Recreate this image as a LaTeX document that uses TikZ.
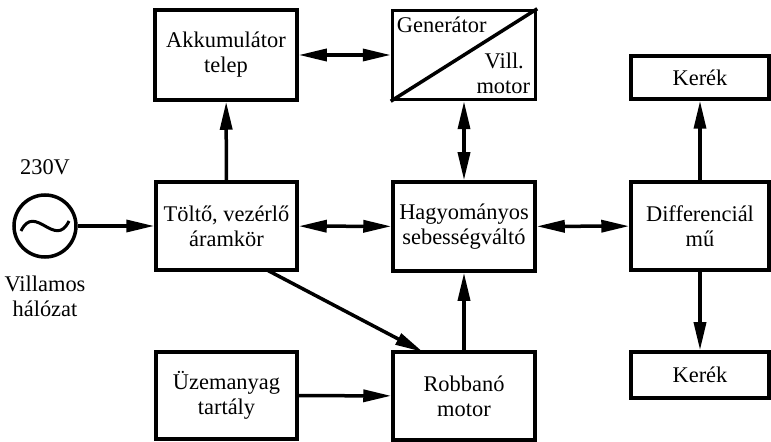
\documentclass[tikz,border=0pt]{standalone}
\usepackage{fontspec}
\setmainfont{Liberation Serif}
\usetikzlibrary{arrows.meta}
\begin{document}
\begin{tikzpicture}[x=1bp,y=-1bp,
  blk/.style={draw,line width=3.5bp,inner sep=0pt,align=center,font=\fontsize{22.5}{25}\selectfont},
  conn/.style={line width=3.5bp,-{Triangle[length=28bp,width=12bp]}},
  bconn/.style={line width=3.5bp,{Triangle[length=28bp,width=12bp]}-{Triangle[length=28bp,width=12bp]}},
  lbl/.style={font=\fontsize{22.5}{25}\selectfont,align=center,inner sep=0pt}]
\useasboundingbox (0,0) rectangle (771,442);
% boxes
\node[blk,minimum width=142bp,minimum height=90bp] (akk) at (226,55) {Akkumulátor\\telep};
\node[blk,minimum width=143bp,minimum height=89bp] (gen) at (464,55) {};
\node[blk,minimum width=138bp,minimum height=43bp] (k1) at (700,77.5) {Kerék};
\node[blk,minimum width=141bp,minimum height=88bp] (tol) at (226.5,226) {Töltő, vezérlő\\áramkör};
\node[blk,minimum width=142bp,minimum height=89bp] (hag) at (464,226.5) {Hagyományos\\sebességváltó};
\node[blk,minimum width=138bp,minimum height=88bp] (dif) at (700,226) {Differenciál\\mű};
\node[blk,minimum width=141bp,minimum height=87bp] (uze) at (226.5,395.5) {Üzemanyag\\tartály};
\node[blk,minimum width=142bp,minimum height=88bp] (rob) at (464,396) {Robbanó\\motor};
\node[blk,minimum width=138bp,minimum height=46bp] (k2) at (700,375) {Kerék};
% generator diagonal and labels
\draw[line width=3.5bp] (gen.south west) -- (gen.north east);
\node[lbl,anchor=north west] (gtxt) at ([xshift=6bp,yshift=-8bp]gen.north west) {Generátor};
\node[lbl,anchor=south east,align=right] (vtxt) at ([xshift=-7bp,yshift=7bp]gen.south east) {Vill.\;\\motor};
% source
\node[draw,circle,line width=3.5bp,minimum size=62bp,inner sep=0pt] (src) at (45,226) {};
\draw[line width=3bp] ([xshift=-24bp,yshift=-5bp]src.center) .. controls ([xshift=-10bp,yshift=24bp]src.center) and ([xshift=10bp,yshift=-24bp]src.center) .. ([xshift=24bp,yshift=5bp]src.center);
\node[lbl] (v230) at (45,167) {230V};
\node[lbl] (vill) at (45,296) {Villamos\\hálózat};
% connectors
\draw[conn] (src) -- (tol);
\draw[conn] (tol) -- (akk);
\draw[bconn] (akk) -- (gen);
\draw[bconn] (gen) -- (hag);
\draw[bconn] (tol) -- (hag);
\draw[bconn] (hag) -- (dif);
\draw[conn] (dif) -- (k1);
\draw[conn] (dif) -- (k2);
\draw[conn] (uze) -- (rob);
\draw[conn] (rob) -- (hag);
\coordinate (ts) at (267,270);
\coordinate (rt) at (423,352);
\draw[conn] (ts) -- (rt);
\end{tikzpicture}
\end{document}
